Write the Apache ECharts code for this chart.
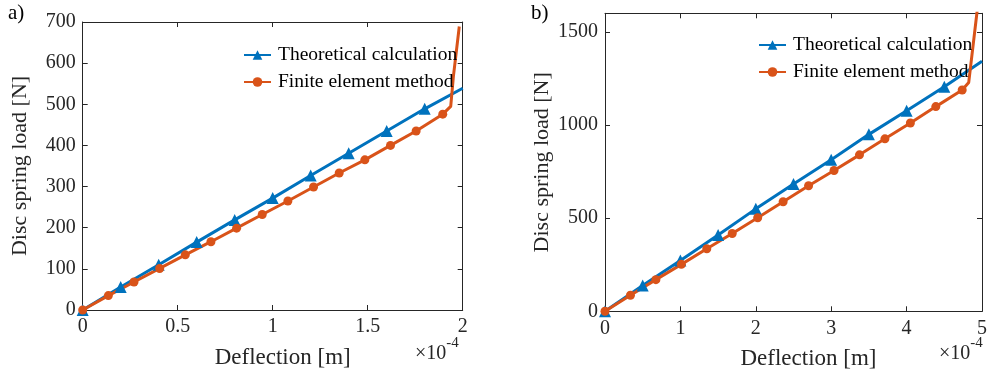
<!DOCTYPE html>
<html>
<head>
<meta charset="utf-8">
<script src="https://cdn.jsdelivr.net/npm/echarts@6/dist/echarts.min.js"></script>
<style>
  html, body { margin: 0; padding: 0; background: #fff; }
  #chart { width: 990px; height: 376px; }
</style>
</head>
<body>
<div id="chart"></div>
<script>
// deflection in units of 1e-4 m, load in N

// panel a)
const thX_a = [0, 0.2, 0.4, 0.6, 0.8, 1.0, 1.2, 1.4, 1.6, 1.8]
const thY_a = [0, 56, 110, 165, 219, 272, 327, 381, 435, 489]
const thTailX_a = [2.0]
const thTailY_a = [539]
const feX_a = [0, 0.135, 0.27, 0.405, 0.54, 0.675, 0.81, 0.945, 1.08, 1.215, 1.35, 1.485, 1.62, 1.755, 1.895]
const feY_a = [0, 35, 68, 101, 134, 166, 199, 232, 265, 299, 333, 365, 400, 435, 476]
const feTailX_a = [1.937, 1.951, 1.982]
const feTailY_a = [495, 568, 689]

// panel b)
const thX_b = [0, 0.5, 1.0, 1.5, 2.0, 2.5, 3.0, 3.5, 4.0, 4.5]
const thY_b = [0, 138, 273, 410, 550, 684, 814, 950, 1077, 1206]
const thTailX_b = [5.0]
const thTailY_b = [1343]
const feX_b = [0, 0.3375, 0.675, 1.0125, 1.35, 1.6875, 2.025, 2.3625, 2.7, 3.0375, 3.375, 3.7125, 4.05, 4.3875, 4.737]
const feY_b = [0, 86, 170, 252, 336, 418, 502, 588, 674, 756, 840, 926, 1011, 1099, 1188]
const feTailX_b = [4.824, 4.932, 4.96]
const feTailY_b = [1229, 1600, 1700]

const xTicks_a = { min: 0, max: 2, interval: 0.5 }
const yTicks_a = { min: 0, max: 700, interval: 100 }
const xTicks_b = { min: 0, max: 5, interval: 1 }
const yTicks_b = { min: 0, max: 1600, interval: 500 }

const seriesNames = ['Theoretical calculation', 'Finite element method']

const BLUE = '#0072BD'
const ORANGE = '#D95319'
const AX = '#262626'
const FONT = '"Liberation Serif", "Times New Roman", serif'

function buildData(xs, ys, tx, ty) {
    const d = xs.map((x, i) => [x, ys[i]])
    tx.forEach((x, i) => {
        d.push({ value: [x, ty[i]], symbol: 'none' })
    })
    return d
}

function axisBase(r, grid, pos, showLabel) {
    return {
        type: 'value',
        gridIndex: grid,
        position: pos,
        min: r.min,
        max: r.max,
        interval: r.interval,
        splitLine: { show: false },
        axisLine: { show: true, onZero: false, lineStyle: { color: AX, width: 1 } },
        axisTick: { show: true, inside: true, length: 5, lineStyle: { color: AX } },
        axisLabel: {
            show: showLabel,
            color: AX,
            fontFamily: FONT,
            fontSize: 20,
            margin: 7,
            formatter: v => String(v),
            showMaxLabel: pos === 'left' && r.max === 1600 ? false : null
        }
    }
}

function xName(ax, pad) {
    ax.name = 'Deflection [m]'
    ax.nameLocation = 'middle'
    ax.nameGap = 36
    ax.nameTextStyle = { color: AX, fontFamily: FONT, fontSize: 23, padding: [0, 0, 0, pad] }
    return ax
}
function yName(ax, gap) {
    ax.name = 'Disc spring load [N]'
    ax.nameLocation = 'middle'
    ax.nameGap = gap
    ax.nameTextStyle = { color: AX, fontFamily: FONT, fontSize: 22 }
    return ax
}

function lineSeries(name, data, xi, yi, color, symbol, size) {
    return {
        name: name,
        type: 'line',
        xAxisIndex: xi,
        yAxisIndex: yi,
        data: data,
        symbol: symbol,
        symbolSize: size,
        showAllSymbol: true,
        clip: true,
        lineStyle: { color: color, width: 3 },
        itemStyle: { color: color },
        emphasis: { disabled: true },
        animation: false
    }
}

const chart = echarts.init(document.getElementById('chart'), null, { renderer: 'canvas' })

const legendCommon = {
    orient: 'vertical',
    itemWidth: 27,
    itemHeight: 12,
    itemGap: 7,
    textStyle: { color: '#000', fontFamily: FONT, fontSize: 19.5, lineHeight: 20, padding: [0, 0, 0, 2] },
    data: seriesNames
}

const expo = {
    text: '{b|×10}{s|-4}',
    rich: {
        b: { fontFamily: FONT, fontSize: 20, fill: AX, verticalAlign: 'bottom', lineHeight: 28 },
        s: { fontFamily: FONT, fontSize: 15, fill: AX, verticalAlign: 'top', lineHeight: 28 }
    }
}

const option = {
    backgroundColor: '#fff',
    animation: false,
    grid: [
        { left: 82.7, top: 22, width: 380, height: 288 },
        { left: 605, top: 13.3, width: 383, height: 298 }
    ],
    xAxis: [
        xName(axisBase(xTicks_a, 0, 'bottom', true), 20),
        axisBase(xTicks_a, 0, 'top', false),
        xName(axisBase(xTicks_b, 1, 'bottom', true), 30),
        axisBase(xTicks_b, 1, 'top', false)
    ],
    yAxis: [
        yName(axisBase(yTicks_a, 0, 'left', true), 51),
        axisBase(yTicks_a, 0, 'right', false),
        yName(axisBase(yTicks_b, 1, 'left', true), 52),
        axisBase(yTicks_b, 1, 'right', false)
    ],
    legend: [
        Object.assign({}, legendCommon, { left: 238, top: 40 }),
        Object.assign({}, legendCommon, { left: 753, top: 30 })
    ],
    graphic: [
        { type: 'text', left: 8, top: 3, style: { text: 'a)', font: '21px ' + FONT, fill: '#000' } },
        { type: 'text', left: 531, top: 3, style: { text: 'b)', font: '21px ' + FONT, fill: '#000' } },
        { type: 'text', left: 415, top: 336, style: expo },
        { type: 'text', left: 939, top: 336, style: expo }
    ],
    series: [
        lineSeries(seriesNames[0], buildData(thX_a, thY_a, thTailX_a, thTailY_a), 0, 0, BLUE, 'triangle', 12),
        lineSeries(seriesNames[1], buildData(feX_a, feY_a, feTailX_a, feTailY_a), 0, 0, ORANGE, 'circle', 9),
        lineSeries(seriesNames[0], buildData(thX_b, thY_b, thTailX_b, thTailY_b), 2, 2, BLUE, 'triangle', 12),
        lineSeries(seriesNames[1], buildData(feX_b, feY_b, feTailX_b, feTailY_b), 2, 2, ORANGE, 'circle', 9)
    ]
}

chart.setOption(option)
</script>
</body>
</html>
